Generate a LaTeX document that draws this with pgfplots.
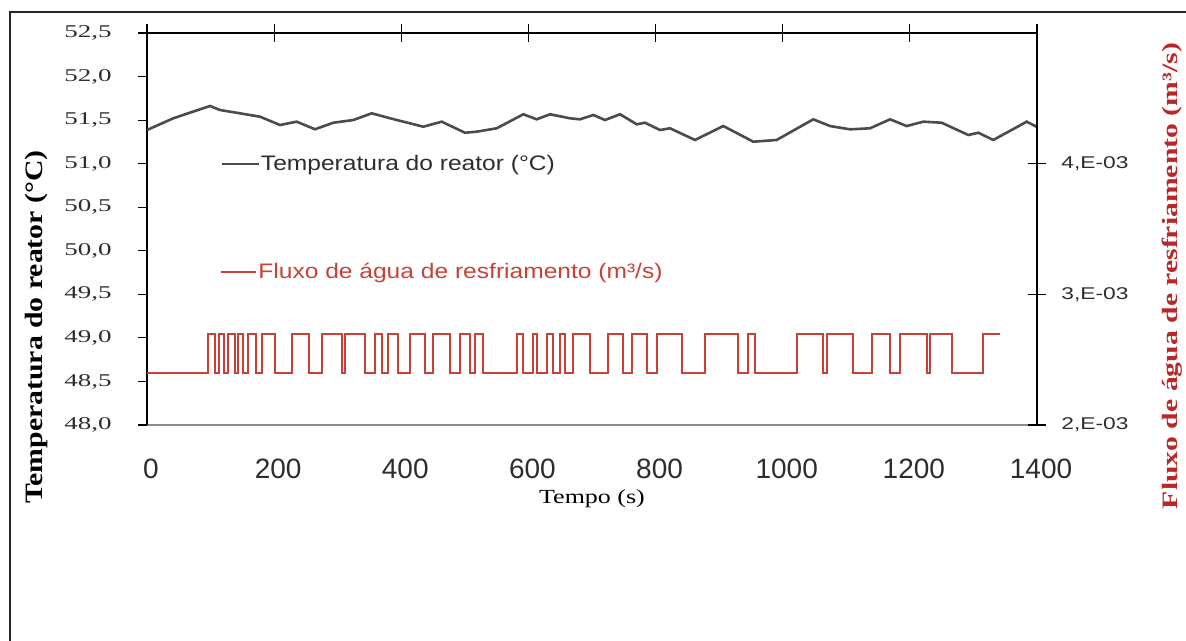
\documentclass[border=0pt]{standalone}
\usepackage{fontspec}
\setmainfont{Liberation Serif}
\usepackage{pgfplots}
\pgfplotsset{compat=1.18}

% widened faces for labels
\newfontfamily\serifTick[FakeStretch=1.5]{Liberation Serif}
\newfontfamily\serifTitleL[FakeStretch=1.19]{Liberation Serif}
\newfontfamily\serifTitleR[FakeStretch=1.35]{Liberation Serif}
\newfontfamily\serifXlab[FakeStretch=1.3]{Liberation Serif}
\newfontfamily\sansLegend[FakeStretch=1.17]{Liberation Sans}
\newfontfamily\sansRight[FakeStretch=1.34]{Liberation Sans}
\newfontfamily\sansX{Liberation Sans}

\definecolor{tempgray}{RGB}{75,75,75}
\definecolor{flowred}{RGB}{200,65,55}
\definecolor{titlered}{RGB}{185,40,40}
\definecolor{labeldark}{RGB}{45,45,45}

\begin{document}
\begin{tikzpicture}
\path[use as bounding box] (0,0) rectangle (593pt,320.5pt);
\draw[line width=1pt, black!85] (5pt,0) -- (5pt,314.5pt) -- (593pt,314.5pt);

% reactor temperature, left axis
\begin{axis}[
  at={(73.5pt,108pt)}, anchor=south west,
  scale only axis, width=445pt, height=196pt,
  xmin=0, xmax=1400, ymin=48, ymax=52.5,
  axis x line*=bottom, axis y line*=left,
  axis line style={-},
  x axis line style={draw=black!45, line width=0.6pt},
  y axis line style={draw=black, line width=0.7pt},
  xtick={0,200,400,600,800,1000,1200,1400},
  xticklabels={0,200,400,600,800,1000,1200,1400},
  xtick style={draw=none},
  xticklabel style={font=\sansX\fontsize{14pt}{14pt}\selectfont, text=labeldark, anchor=base, yshift=-22.5pt, xshift=2pt, inner sep=0pt},
  ytick={48,48.5,49,49.5,50,50.5,51,51.5,52,52.5},
  yticklabels={{48,0},{48,5},{49,0},{49,5},{50,0},{50,5},{51,0},{51,5},{52,0},{52,5}},
  ytick style={draw=black, line width=0.6pt},
  tick align=outside, major tick length=4.5pt,
  yticklabel style={font=\serifTick\fontsize{9pt}{9pt}\selectfont, text=labeldark, anchor=east, xshift=-13pt, inner sep=0pt},
  xlabel={\serifXlab\fontsize{10pt}{10pt}\selectfont Tempo (s)},
  every axis x label/.style={at={(axis description cs:0.5,0)}, yshift=-37pt, anchor=center},
  ylabel={\serifTitleL\bfseries\fontsize{12.5pt}{12.5pt}\selectfont Temperatura do reator (°C)},
  every axis y label/.style={at={(axis description cs:-0.1247,0.25)}, rotate=90, anchor=center},
  legend style={at={(0.082,0.666)}, anchor=west, draw=none, fill=none, inner sep=0pt,
    font=\sansLegend\fontsize{10.5pt}{10.5pt}\selectfont, text=labeldark,
    nodes={inner sep=0.5pt}},
  legend image code/.code={\draw[#1] (0pt,0pt) -- (18.5pt,0pt);},
]
\addplot[tempgray, line width=1.3pt] coordinates {
(0,51.386) (41.4,51.521) (99.1,51.662) (114.8,51.616) (146.3,51.578)
(177.8,51.539) (209.2,51.444) (235.5,51.482) (264.3,51.395) (293.1,51.470)
(324.6,51.501) (353.5,51.578) (382.3,51.521) (413.7,51.463) (434.6,51.424)
(463.6,51.482) (500.2,51.355) (518.6,51.367) (550.1,51.406) (592.0,51.567)
(613.0,51.509) (633.9,51.567) (665.4,51.521) (681.1,51.509) (702.1,51.559)
(720.5,51.501) (744.1,51.567) (770.3,51.452) (783.4,51.470) (807.0,51.386)
(822.7,51.406) (862.0,51.272) (906.6,51.432) (953.7,51.252) (990.5,51.272)
(1048.1,51.509) (1074.4,51.432) (1105.8,51.394) (1137.3,51.406) (1168.8,51.509)
(1195.0,51.432) (1221.2,51.482) (1250.1,51.470) (1291.9,51.329) (1307.7,51.355)
(1331.3,51.272) (1383.8,51.482) (1400,51.421)
};
\addlegendentry{Temperatura do reator (°C)}
\end{axis}

% cooling water flow, right axis
\begin{axis}[
  at={(73.5pt,108pt)}, anchor=south west,
  scale only axis, width=445pt, height=196pt,
  xmin=0, xmax=1400, ymin=0.002, ymax=0.005,
  scaled y ticks=false,
  axis x line*=top, axis y line*=right,
  axis line style={-, draw=black, line width=0.7pt},
  xtick={0,200,400,600,800,1000,1200,1400},
  xticklabel={\phantom{0}},
  ytick={0.002,0.003,0.004},
  yticklabels={{2,E-03},{3,E-03},{4,E-03}},
  tick style={draw=black, line width=0.6pt},
  tick align=center, major tick length=9pt,
  yticklabel style={font=\sansRight\fontsize{8.5pt}{8.5pt}\selectfont, text=labeldark, anchor=west, xshift=7.5pt, inner sep=0pt},
  ylabel={\serifTitleR\bfseries\fontsize{11pt}{11pt}\selectfont Fluxo de água de resfriamento (m³/s)},
  every axis y label/.style={at={(axis description cs:1.1517,0.38)}, rotate=90, anchor=center, text=titlered},
  legend style={at={(0.082,0.3903)}, anchor=west, draw=none, fill=none, inner sep=0pt,
    font=\sansLegend\fontsize{10.5pt}{10.5pt}\selectfont, text=flowred,
    nodes={inner sep=0.5pt}},
  legend image code/.code={\draw[#1] (0pt,0pt) -- (17.5pt,0pt);},
]
\addplot[flowred, line width=1pt, const plot] coordinates {
(0,0.0024) (96,0.0027) (107,0.0024) (113,0.0027) (121,0.0024)
(127,0.0027) (138,0.0024) (143,0.0027) (151,0.0024) (159,0.0027)
(171,0.0024) (181,0.0027) (201,0.0024) (228,0.0027) (255,0.0024)
(275,0.0027) (307,0.0024) (311,0.0027) (343,0.0024) (359,0.0027)
(370,0.0024) (379,0.0027) (395,0.0024) (414,0.0027) (437,0.0024)
(450,0.0027) (477,0.0024) (492,0.0027) (508,0.0024) (516,0.0027)
(529,0.0024) (582,0.0027) (591,0.0024) (607,0.0027) (613,0.0024)
(629,0.0027) (639,0.0024) (650,0.0027) (657,0.0024) (670,0.0027)
(697,0.0024) (725,0.0027) (749,0.0024) (763,0.0027) (786,0.0024)
(802,0.0027) (842,0.0024) (878,0.0027) (930,0.0024) (945,0.0027)
(956,0.0024) (1022,0.0027) (1063,0.0024) (1070,0.0027) (1111,0.0024)
(1140,0.0027) (1169,0.0024) (1184,0.0027) (1227,0.0024) (1232,0.0027)
(1266,0.0024) (1315,0.0027) (1342,0.0027)
};
\addlegendentry{Fluxo de água de resfriamento (m³/s)}
\end{axis}
\end{tikzpicture}
\end{document}
